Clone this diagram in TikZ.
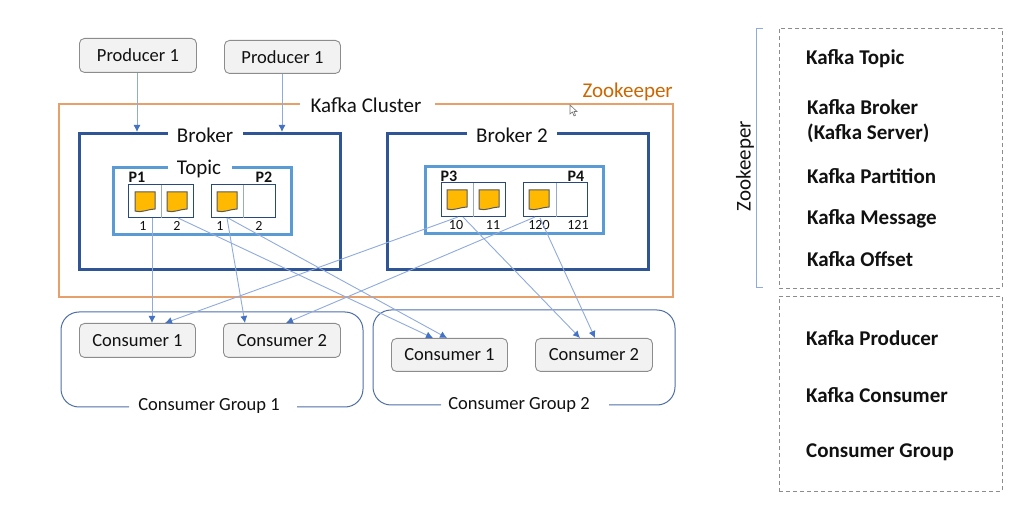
\documentclass[tikz,border=0pt]{standalone}
\usepackage{fontspec}
\setmainfont{Carlito}
\usetikzlibrary{arrows.meta}
\definecolor{orangeline}{HTML}{E8A06A}
\definecolor{brokerblue}{HTML}{2F5597}
\definecolor{topicblue}{HTML}{5B9BD5}
\definecolor{arrowblue}{HTML}{8FAADC}
\definecolor{tipblue}{HTML}{4472C4}
\definecolor{boxgrey}{HTML}{F2F2F2}
\definecolor{edgegrey}{HTML}{8C8C8C}
\definecolor{docamber}{HTML}{FFB900}
\definecolor{txt}{HTML}{111111}
\tikzset{
  x=1pt,y=-1pt,
  every node/.style={text=txt,inner sep=0pt},
  rolebox/.style={draw=edgegrey,fill=boxgrey,rounded corners=5pt,line width=0.9pt,font=\fontsize{18.5}{20}\selectfont,anchor=north west},
  clusterline/.style={draw=orangeline,line width=1.8pt},
  brokerline/.style={draw=brokerblue,line width=3pt},
  topicline/.style={draw=topicblue,line width=3pt},
  groupline/.style={draw=brokerblue!85,line width=1pt,rounded corners=18pt},
  partbox/.style={draw=brokerblue!85!black,line width=1pt,fill=white},
  partdiv/.style={draw=brokerblue!50,line width=0.8pt},
  flow/.style={draw=arrowblue,line width=0.9pt,-{Latex[length=7pt,width=7pt,color=tipblue]}},
  biglabel/.style={font=\fontsize{21}{24}\selectfont},
  grouplabel/.style={font=\fontsize{18.5}{22}\selectfont},
  num/.style={font=\fontsize{14}{16}\selectfont},
  plabel/.style={font=\bfseries\fontsize{16}{18}\selectfont},
  term/.style={font=\bfseries\fontsize{21}{24}\selectfont,anchor=west,align=left},
  dashbox/.style={draw=edgegrey,line width=0.9pt,dash pattern=on 4pt off 3pt},
  docpage/.pic={\path[draw=black!65,line width=1pt,fill=docamber] (0,0) -- (20,0) -- (20,17) .. controls (13,17) and (8,21) .. (0,19) -- cycle;}
}
\begin{document}
\begin{tikzpicture}
\useasboundingbox (0,0) rectangle (1029,529);
% cluster
\draw[clusterline] (300,104) -- (59,104) -- (59,297) -- (673,297) -- (673,104) -- (435,104);
\node[biglabel] (cluster) at (366,105) {Kafka Cluster};
\node[biglabel,text=orange!80!black,anchor=east] (zk) at (673,92) {Zookeeper};
% broker 1
\draw[brokerline] (168,134) -- (79.5,134) -- (79.5,270) -- (340,270) -- (340,134) -- (243,134);
\node[biglabel] (broker1) at (205,135) {Broker};
\draw[topicline] (168,168) -- (113,168) -- (113,235) -- (291,235) -- (291,168) -- (232,168);
\node[biglabel] (topic1) at (199,169) {Topic};
\node[partbox,minimum width=65pt,minimum height=33pt] (pa) at (160.5,201.5) {};
\node[partbox,minimum width=64pt,minimum height=33pt] (pb) at (243,201.5) {};
\draw[partdiv] (161,185) -- (161,218);
\draw[partdiv] (243,185) -- (243,218);
\pic at (135,192) {docpage};
\pic at (167,192) {docpage};
\pic at (217,192) {docpage};
\node[plabel] (p1) at (137,177) {P1};
\node[plabel] (p2) at (264,177) {P2};
\node[num] (n1) at (143,226) {1};
\node[num] (n2) at (177,226) {2};
\node[num] (n3) at (220,226) {1};
\node[num] (n4) at (259,226) {2};
% broker 2
\draw[brokerline] (467,134) -- (387,134) -- (387,270) -- (648,270) -- (648,134) -- (557,134);
\node[biglabel] (broker2) at (512,135) {Broker 2};
\draw[topicline] (425,167) rectangle (603,234);
\node[partbox,minimum width=64pt,minimum height=34pt] (pc) at (473,200) {};
\node[partbox,minimum width=64pt,minimum height=34pt] (pd) at (555,200) {};
\draw[partdiv] (473,183) -- (473,217);
\draw[partdiv] (556,183) -- (556,217);
\pic at (447,190) {docpage};
\pic at (479,190) {docpage};
\pic at (529,190) {docpage};
\node[plabel] (p3) at (449,176) {P3};
\node[plabel] (p4) at (576,176) {P4};
\node[num] (n10) at (456,225) {10};
\node[num] (n11) at (493,225) {11};
\node[num] (n120) at (539,225) {120};
\node[num] (n121) at (578,225) {121};
% consumer groups
\draw[groupline] (129,407) -- (61,407) -- (61,312) -- (363,312) -- (363,407) -- (297,407);
\node[grouplabel] (g1) at (209,406) {Consumer Group 1};
\draw[groupline] (441,405) -- (373,405) -- (373,310) -- (675,310) -- (675,405) -- (609,405);
\node[grouplabel] (g2) at (519,405) {Consumer Group 2};
% roles
\node[rolebox,minimum width=117pt,minimum height=34pt] (prod1) at (79,38) {Producer 1};
\node[rolebox,minimum width=116pt,minimum height=33pt] (prod2) at (224,40) {Producer 1};
\node[rolebox,minimum width=116pt,minimum height=34pt] (c1) at (79,323) {Consumer 1};
\node[rolebox,minimum width=117pt,minimum height=34pt] (c2) at (223,323) {Consumer 2};
\node[rolebox,minimum width=116pt,minimum height=33pt] (c3) at (391,338) {Consumer 1};
\node[rolebox,minimum width=117pt,minimum height=33pt] (c4) at (535,338) {Consumer 2};
% connector ends
\coordinate (bt1) at (137,132); \coordinate (bt2) at (282,132);
\coordinate (a1) at (152,218); \coordinate (a2) at (178,218); \coordinate (a3) at (227,218); \coordinate (a4) at (228,218);
\coordinate (a5) at (458,217); \coordinate (a6) at (463,217); \coordinate (a7) at (535,217); \coordinate (a8) at (540,218);
\draw[flow] (prod1.south -| bt1) -- (bt1);
\draw[flow] (prod2.south -| bt2) -- (bt2);
\draw[flow] (a1) -- (a1 |- c1.north);
\draw[flow] (a5) -- (c1.north -| 165,0);
\draw[flow] (a3) -- (c2.north -| 245,0);
\draw[flow] (a7) -- (c2.north -| 286,0);
\draw[flow] (a2) -- (c3.north -| 433,0);
\draw[flow] (a4) -- (c3.north -| 447,0);
\draw[flow] (a6) -- (c4.north -| 580,0);
\draw[flow] (a8) -- (c4.north -| 595,0);
% cursor
\path[draw=black!55,line width=0.6pt,fill=white] (570,105) -- (570,114) -- (572.5,112) -- (574,116) -- (575.5,115.3) -- (574,111.5) -- (577,111.5) -- cycle;
% right column
\draw[draw=arrowblue,line width=0.9pt] (763,28) -- (756,28) -- (756,287) -- (763,287);
\node[biglabel,rotate=90] (zk2) at (745,166) {Zookeeper};
\node[dashbox,anchor=north west,minimum width=223pt,minimum height=260pt] (d1) at (779,28) {};
\node[dashbox,anchor=north west,minimum width=223pt,minimum height=195pt] (d2) at (779,296) {};
\node[term] (t1) at (806,58.5) {Kafka Topic};
\node[term] (t2a) at (807,107) {Kafka Broker};
\node[term] (t2b) at (807,133) {(Kafka Server)};
\node[term] (t3) at (807,176) {Kafka Partition};
\node[term] (t4) at (807,218.5) {Kafka Message};
\node[term] (t5) at (807,259) {Kafka Offset};
\node[term] (t6) at (806,338) {Kafka Producer};
\node[term] (t7) at (806,395) {Kafka Consumer};
\node[term] (t8) at (806,452.5) {Consumer Group};
\end{tikzpicture}
\end{document}
